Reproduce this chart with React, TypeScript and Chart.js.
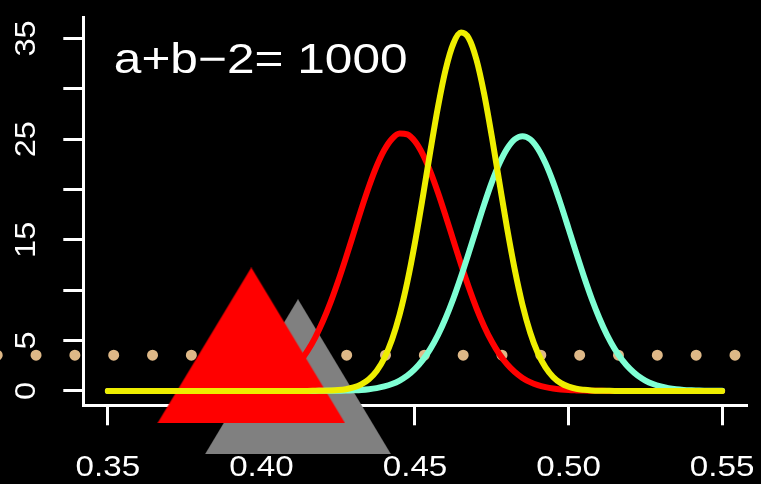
import React, { useEffect, useRef } from "react";
import { Chart, registerables } from "chart.js";

Chart.register(...registerables);

// ---- data ----
const xs = [
  0.35, 0.3525, 0.355, 0.3575, 0.36, 0.3625, 0.365, 0.3675, 0.37, 0.3725,
  0.375, 0.3775, 0.38, 0.3825, 0.385, 0.3875, 0.39, 0.3925, 0.395, 0.3975,
  0.4, 0.4025, 0.405, 0.4075, 0.41, 0.4125, 0.415, 0.4175, 0.42, 0.4225,
  0.425, 0.4275, 0.43, 0.4325, 0.435, 0.4375, 0.44, 0.4425, 0.445, 0.4475,
  0.45, 0.4525, 0.455, 0.4575, 0.46, 0.4625, 0.465, 0.4675, 0.47, 0.4725,
  0.475, 0.4775, 0.48, 0.4825, 0.485, 0.4875, 0.49, 0.4925, 0.495, 0.4975,
  0.5, 0.5025, 0.505, 0.5075, 0.51, 0.5125, 0.515, 0.5175, 0.52, 0.5225,
  0.525, 0.5275, 0.53, 0.5325, 0.535, 0.5375, 0.54, 0.5425, 0.545, 0.5475,
  0.55,
];

const redCurve = [
  0, 0, 0, 0, 0, 0, 0, 0, 0, 0,
  0, 0, 0, 0.01, 0.02, 0.03, 0.06, 0.1, 0.16, 0.26,
  0.42, 0.65, 0.98, 1.44, 2.07, 2.9, 3.97, 5.3, 6.91, 8.79,
  10.91, 13.21, 15.62, 18.03, 20.3, 22.31, 23.92, 25.03, 25.56, 25.47,
  24.77, 23.51, 21.78, 19.68, 17.36, 14.95, 12.55, 10.29, 8.23, 6.43,
  4.9, 3.64, 2.64, 1.87, 1.29, 0.87, 0.57, 0.37, 0.23, 0.14,
  0.08, 0.05, 0.03, 0.02, 0.01, 0, 0, 0, 0, 0,
  0, 0, 0, 0, 0, 0, 0, 0, 0, 0,
  0,
];

const aquaCurve = [
  0, 0, 0, 0, 0, 0, 0, 0, 0, 0,
  0, 0, 0, 0, 0, 0, 0, 0, 0, 0,
  0, 0, 0, 0, 0, 0, 0, 0, 0.01, 0.01,
  0.02, 0.03, 0.06, 0.1, 0.17, 0.28, 0.44, 0.68, 1.03, 1.51,
  2.18, 3.05, 4.17, 5.56, 7.24, 9.18, 11.36, 13.7, 16.12, 18.5,
  20.71, 22.6, 24.06, 24.99, 25.3, 24.99, 24.06, 22.6, 20.71, 18.5,
  16.12, 13.7, 11.36, 9.18, 7.24, 5.56, 4.17, 3.05, 2.18, 1.51,
  1.03, 0.68, 0.44, 0.28, 0.17, 0.1, 0.06, 0.03, 0.02, 0.01,
  0.01,
];

const yellowCurve = [
  0, 0, 0, 0, 0, 0, 0, 0, 0, 0,
  0, 0, 0, 0, 0, 0, 0, 0, 0, 0,
  0, 0, 0, 0, 0, 0, 0, 0.01, 0.02, 0.04,
  0.08, 0.17, 0.34, 0.64, 1.15, 1.97, 3.24, 5.07, 7.58, 10.82,
  14.75, 19.18, 23.82, 28.23, 31.94, 34.5, 35.58, 35.02, 32.91, 29.52,
  25.28, 20.66, 16.12, 12.01, 8.54, 5.8, 3.76, 2.33, 1.37, 0.77,
  0.42, 0.21, 0.11, 0.05, 0.02, 0.01, 0, 0, 0, 0,
  0, 0, 0, 0, 0, 0, 0, 0, 0, 0,
  0,
];

const triangleX = [0.3967, 0.4119];
const triangleY = [4.51, 1.41];

const dotLineX = [0.31397, 0.575];
const dotLineY = [3.55, 3.55];

const xTickValues = [0.35, 0.4, 0.45, 0.5, 0.55];
const xTickLabels = ["0.35", "0.40", "0.45", "0.50", "0.55"];
const yTickValues = [0, 5, 10, 15, 20, 25, 30, 35];
const yTickLabels = ["0", "5", "", "15", "", "25", "", "35"];

const titleText = "a+b\u22122= 1000";

// ---- helpers ----
function makeTriangle(color: string, w: number, h: number) {
  const c = document.createElement("canvas");
  c.width = w;
  c.height = h;
  const ctx = c.getContext("2d")!;
  ctx.fillStyle = color;
  ctx.beginPath();
  ctx.moveTo(w / 2, 0);
  ctx.lineTo(w, h);
  ctx.lineTo(0, h);
  ctx.closePath();
  ctx.fill();
  return c;
}

const bgPlugin = {
  id: "bg",
  beforeDraw(chart: any) {
    const ctx = chart.ctx;
    ctx.save();
    ctx.fillStyle = "#000000";
    ctx.fillRect(0, 0, chart.width, chart.height);
    ctx.restore();
  },
};

const textPlugin = {
  id: "rtext",
  afterDraw(chart: any) {
    const ctx = chart.ctx;
    const sx = chart.scales.x;
    const sy = chart.scales.y;
    ctx.save();
    ctx.fillStyle = "#FFFFFF";
    ctx.textBaseline = "alphabetic";
    ctx.font = '30px "Liberation Sans", Arial, sans-serif';
    ctx.textAlign = "center";
    const r1 = ctx.measureText("0.35");
    const kx = 62.7 / (r1.actualBoundingBoxLeft + r1.actualBoundingBoxRight);
    xTickValues.forEach((v, i) => {
      const px = sx.getPixelForValue(v);
      ctx.save();
      ctx.translate(px, 475.5);
      ctx.scale(kx, 1);
      ctx.fillText(xTickLabels[i], 0, 0);
      ctx.restore();
    });
    const r2 = ctx.measureText("35");
    const ky = 34.3 / (r2.actualBoundingBoxLeft + r2.actualBoundingBoxRight);
    yTickValues.forEach((v, i) => {
      const lab = yTickLabels[i];
      if (!lab) return;
      const py = sy.getPixelForValue(v);
      ctx.save();
      ctx.translate(35, py);
      ctx.rotate(-Math.PI / 2);
      ctx.scale(ky, 1);
      ctx.fillText(lab, 0, 0);
      ctx.restore();
    });
    ctx.font = '42px "Liberation Sans", Arial, sans-serif';
    ctx.textAlign = "left";
    const m = ctx.measureText(titleText);
    const kt = 291 / (m.actualBoundingBoxLeft + m.actualBoundingBoxRight);
    ctx.save();
    ctx.translate(115 + m.actualBoundingBoxLeft * kt, 72.7);
    ctx.scale(kt, 1);
    ctx.fillText(titleText, 0, 0);
    ctx.restore();
    ctx.restore();
  },
};

export default function App() {
  const ref = useRef<HTMLCanvasElement>(null);

  useEffect(() => {
    const canvas = ref.current!;
    const redTri = makeTriangle("#FF0000", 188, 156);
    const grayTri = makeTriangle("#808080", 186, 155);
    const pts = (ys: number[]) => xs.map((x, i) => ({ x, y: ys[i] }));

    const curveStyle = {
      borderWidth: 6,
      pointRadius: 0,
      borderCapStyle: "round" as const,
      borderJoinStyle: "round" as const,
      cubicInterpolationMode: "monotone" as const,
      fill: false,
    };

    const chart = new Chart(canvas, {
      type: "line",
      data: {
        datasets: [
          { ...curveStyle, label: "yellow", data: pts(yellowCurve), borderColor: "#EEEE00" },
          { ...curveStyle, label: "aqua", data: pts(aquaCurve), borderColor: "#7FFFD4" },
          { ...curveStyle, label: "red", data: pts(redCurve), borderColor: "#FF0000" },
          {
            label: "redTri",
            data: [{ x: triangleX[0], y: triangleY[0] }],
            showLine: false,
            pointStyle: redTri as any,
            pointRadius: 10,
            clip: false as any,
          },
          {
            label: "grayTri",
            data: [{ x: triangleX[1], y: triangleY[1] }],
            showLine: false,
            pointStyle: grayTri as any,
            pointRadius: 10,
            clip: false as any,
          },
          {
            label: "dots",
            data: dotLineX.map((x, i) => ({ x, y: dotLineY[i] })),
            borderColor: "#DEB887",
            borderWidth: 11,
            borderDash: [0, 38.83],
            borderCapStyle: "round",
            pointRadius: 0,
            tension: 0,
            clip: false as any,
          },
        ] as any,
      },
      options: {
        responsive: false,
        maintainAspectRatio: false,
        devicePixelRatio: 1,
        animation: false,
        events: [],
        layout: { padding: { top: 17, right: 14.3, left: 0, bottom: 0 } },
        plugins: { legend: { display: false }, tooltip: { enabled: false }, title: { display: false } },
        scales: {
          x: {
            type: "linear",
            min: 0.342,
            max: 0.558,
            z: 1,
            afterBuildTicks: (s: any) => {
              s.ticks = xTickValues.map((v) => ({ value: v }));
            },
            afterFit: (s: any) => {
              s.height = 78.7;
            },
            ticks: { display: false },
            grid: {
              display: true,
              drawOnChartArea: false,
              drawTicks: true,
              tickLength: 20,
              color: "#FFFFFF",
              lineWidth: 3,
            },
            border: { display: true, color: "#FFFFFF", width: 3 },
          },
          y: {
            type: "linear",
            min: -1.43,
            max: 37.13,
            z: 1,
            afterBuildTicks: (s: any) => {
              s.ticks = yTickValues.map((v) => ({ value: v }));
            },
            afterFit: (s: any) => {
              s.width = 83.3;
            },
            ticks: { display: false },
            grid: {
              display: true,
              drawOnChartArea: false,
              drawTicks: true,
              tickLength: 20,
              color: "#FFFFFF",
              lineWidth: 3,
            },
            border: { display: true, color: "#FFFFFF", width: 3 },
          },
        },
      } as any,
      plugins: [bgPlugin, textPlugin],
    });

    return () => chart.destroy();
  }, []);

  return (
    <div
      style={{
        position: "fixed",
        left: 0,
        top: 0,
        width: 761,
        height: 484,
        background: "#000000",
      }}
    >
      <canvas
        ref={ref}
        width={761}
        height={484}
        style={{ display: "block", width: 761, height: 484 }}
      />
    </div>
  );
}
